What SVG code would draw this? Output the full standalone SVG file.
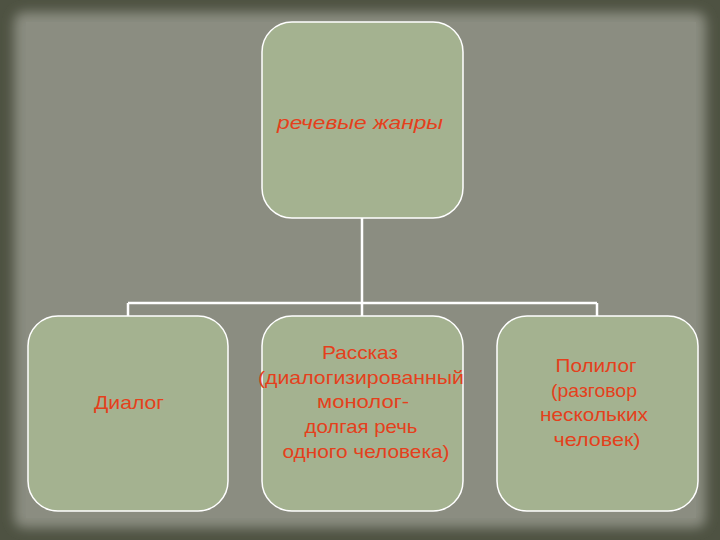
<svg xmlns="http://www.w3.org/2000/svg" width="720" height="540" viewBox="0 0 720 540">
<defs>
<filter id="soft" x="-5%" y="-5%" width="110%" height="110%"><feGaussianBlur stdDeviation="6"/></filter>
<style>
.box{fill:#a4b290;stroke:#ffffff;stroke-width:1.5}
.conn{fill:none;stroke:#ffffff;stroke-width:2.5}
.t{font-family:"Liberation Sans",Arial,sans-serif;font-size:18.5px;fill:#e4401c;text-anchor:middle}
</style>
</defs>
<rect x="0" y="0" width="720" height="540" fill="#4e5242"/>
<rect x="14" y="12" width="692" height="516" rx="10" fill="#8a8c80" filter="url(#soft)"/>
<rect x="26" y="22" width="670" height="496" fill="#8b8d81"/>
<g id="connectors">
<path class="conn" d="M362 218 V303 M128 303 H597 M128 303 V316 M362 303 V316 M597 303 V316"/>
</g>
<g id="n-root">
<rect class="box" x="262" y="22" width="201" height="196" rx="30"/>
<text class="t" x="360" y="129" font-style="italic" textLength="166" lengthAdjust="spacingAndGlyphs">речевые жанры</text>
</g>
<g id="n-dialog">
<rect class="box" x="28" y="316" width="200" height="195" rx="30"/>
<text class="t" x="129" y="409" textLength="70" lengthAdjust="spacingAndGlyphs">Диалог</text>
</g>
<g id="n-rasskaz">
<rect class="box" x="262" y="316" width="201" height="195" rx="30"/>
<text class="t" x="360" y="359" textLength="76" lengthAdjust="spacingAndGlyphs">Рассказ</text>
<text class="t" x="361" y="384" textLength="206" lengthAdjust="spacingAndGlyphs">(диалогизированный</text>
<text class="t" x="363" y="408" textLength="92" lengthAdjust="spacingAndGlyphs">монолог-</text>
<text class="t" x="361" y="433" textLength="113" lengthAdjust="spacingAndGlyphs">долгая речь</text>
<text class="t" x="366" y="458" textLength="167" lengthAdjust="spacingAndGlyphs">одного человека)</text>
</g>
<g id="n-polilog">
<rect class="box" x="497" y="316" width="201" height="195" rx="30"/>
<text class="t" x="596" y="372" textLength="81" lengthAdjust="spacingAndGlyphs">Полилог</text>
<text class="t" x="594" y="397" textLength="86" lengthAdjust="spacingAndGlyphs">(разговор</text>
<text class="t" x="594" y="421" textLength="108" lengthAdjust="spacingAndGlyphs">нескольких</text>
<text class="t" x="597" y="446" textLength="87" lengthAdjust="spacingAndGlyphs">человек)</text>
</g>
</svg>
